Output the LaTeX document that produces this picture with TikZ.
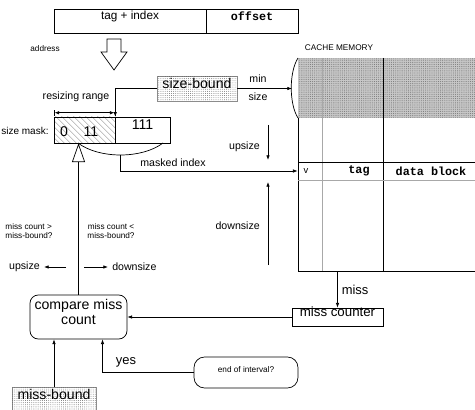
\documentclass[tikz,border=0pt]{standalone}
\usepackage{fontspec}
\setmainfont{Liberation Sans}
\setmonofont{Liberation Mono}
\usetikzlibrary{positioning, arrows.meta, calc, fit, shapes, patterns.meta}
\tikzstyle{plainbox} =[draw, inner sep=0pt, line width=0.6pt]
\tikzstyle{dotbox} =[plainbox, draw=black!45, fill=white, postaction={pattern={Dots[distance=1.8pt, radius=0.35pt]}, pattern color=black!65}]
\tikzstyle{roundbox} =[plainbox, rounded corners=7pt]
\tikzstyle{bigtext} =[font=\fontsize{12}{13}\selectfont]
\tikzstyle{midtext} =[font=\fontsize{9}{10}\selectfont]
\tikzstyle{smalltext} =[font=\fontsize{7}{8}\selectfont]
\tikzstyle{bittext} =[font=\ttfamily\bfseries\fontsize{10}{12}\selectfont]
\definecolor{lineGray}{HTML}{A8A8A8}

\begin{document}
\begin{tikzpicture}[x=0.85pt, y=-0.85pt, line width=0.6pt, >={Latex[length=4pt,width=3pt]}]
\clip (0,0) rectangle (475,409);

% address fields
\node (tagIndex) [plainbox, fit={(54,9) (206,33)}, font=\fontsize{10}{12}\selectfont] {tag + index};
\node (offset) [plainbox, fit={(206,9) (298,33)}, bittext] {offset};
\node (address) [smalltext] at (45,49) {address};
\draw (107,39) -- (121,39) -- (121,52) -- (127,52) -- (114,70) -- (101,52) -- (107,52) -- cycle;

% size mask
\node (sizeBound) [dotbox, bigtext, fit={(157,76) (237,101)}] {size-bound};
\node (maskLow) [plainbox, pattern={Lines[angle=-45, distance=4pt, line width=0.4pt]}, pattern color=black!65, fit={(54,117) (115,143)}] {};
\node (maskHigh) [plainbox, bigtext, fit={(115,117) (170,143)}] {111};
\node (bitZero) [bigtext] at (64,132) {0};
\node (bitOnes) [bigtext] at (91,132) {11};
\node (maskLabel) [font=\fontsize{8.5}{10}\selectfont, anchor=west, inner sep=0pt] at (1,131) {size mask:};
\node (range) [midtext] at (76,97) {resizing range};
\draw [|<->|] ($(maskLow.north west)+(0,-4)$) -- ($(maskLow.north east)+(0,-4)$);
\draw [->] (sizeBound.west) -| (maskLow.north east);

% cache memory
\node (cacheTitle) [smalltext] at (339,48) {CACHE MEMORY};
\node (cacheTop) [fit={(298,58) (480,118)}, inner sep=0pt, fill=black!22, postaction={pattern={Dots[distance=1.6pt, radius=0.35pt]}, pattern color=black!60}] {};
\node (cache) [fit={(298,58) (480,271)}, inner sep=0pt] {};
\node (row) [fit={(298,162) (480,180)}, inner sep=0pt] {};
\draw (298,118) -- (298,271) -- (480,271);
\draw [lineGray] (322,58) -- (322,271);
\draw (383,58) -- (383,271);
\draw (298,162) -- (480,162);
\draw [lineGray] (298,180) -- (480,180);
\draw (298,58) .. controls (289,72) and (289,104) .. (298,118);
\node (validBit) [font=\fontsize{8}{9}\selectfont] at (306,171) {v};
\node (tagField) [bittext] at (359,171) {tag};
\node (dataField) [bittext] at (431,171) {data block};

\draw [->] (sizeBound.east) -- (292,88.5);
\node (minLabel) [midtext] at (258,79) {min};
\node (sizeLabel) [midtext] at (258,97) {size};

% masked index
\draw (78,143) .. controls (99,159) and (142,159) .. coordinate[pos=0.5] (arcMid) (163,143);
\draw [->] (arcMid) |- (row.west);
\node (maskedIdx) [midtext] at (173,163) {masked index};

\coordinate (upTop) at (268,125);
\coordinate (downBot) at (268,265);
\draw [->] (upTop) -- (268,160);
\draw [->] (downBot) -- (268,182);
\node (upRight) [midtext, anchor=east] at (264,147) {upsize};
\node (downRight) [midtext, anchor=east] at (264,226) {downsize};

% miss handling
\node (compare) [roundbox, bigtext, align=center, fit={(30,295) (127,339)}] {compare miss\\count};
\node (missCounter) [plainbox, font=\fontsize{11.3}{13}\selectfont, fit={(292,308) (383,326)}] {miss counter};
\node (endInterval) [roundbox, smalltext, rounded corners=9pt, fit={(194,357) (298,388)}] {end of interval?};
\node (missBound) [dotbox, bigtext, fit={(12,387) (96,413)}] {miss-bound};

\draw [->] (missCounter.north |- cache.south) -- node[right, font=\fontsize{11}{12}\selectfont] {miss} (missCounter.north);
\draw [->] (missCounter.west) -- (missCounter.west -| compare.east);
\draw [->] (endInterval.west) -| ($(compare.south)+(24,0)$);
\node (yesLabel) [font=\fontsize{11}{12}\selectfont] at (126,362) {yes};
\draw [->] (missBound.north) -- (missBound.north |- compare.south);
\draw [-{Triangle[open, length=16pt, width=11pt]}] (compare.north) -- (compare.north |- maskLow.south);

\node (moreLabel) [smalltext, align=left] at (29,231) {miss count >\\miss-bound?};
\node (lessLabel) [smalltext, align=center] at (111,231) {miss count <\\ miss-bound?};
\coordinate (upStart) at (66,267);
\coordinate (downStart) at (84,267);
\node (upLeft) [midtext, anchor=east] at (44,267) {upsize};
\node (downLeft) [midtext, anchor=west] at (108,267) {downsize};
\draw [->] (upStart) -- (upLeft);
\draw [->] (downStart) -- (downLeft);
\end{tikzpicture}
\end{document}
